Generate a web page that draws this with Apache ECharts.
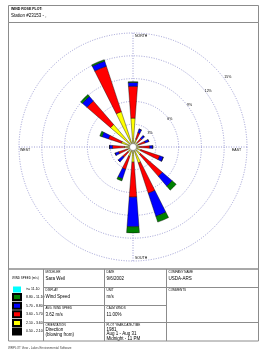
<!DOCTYPE html>
<html><head><meta charset="utf-8">
<script src="https://cdn.jsdelivr.net/npm/echarts@6/dist/echarts.min.js"></script>
<style>html,body{margin:0;padding:0;background:#fff}#c{width:266px;height:357px}</style>
</head><body><div id="c"></div>
<script>
// ---- data ----
const directions = ['N','NNE','NE','ENE','E','ESE','SE','SSE','S','SSW','SW','WSW','W','WNW','NW','NNW'];
const speedClasses = ['0.50 - 2.10','2.10 - 3.60','3.60 - 5.70','5.70 - 8.80','8.80 - 11.10','>= 11.10'];
const speedColors = ['#000000','#ffff00','#ff0000','#0000ff','#008000','#00ffff'];
// frequency (%) per direction, per wind speed class
const speed050_210 = [0.3,0.3,0.3,0.3,0.3,0.3,0.3,0.3,0.3,0.3,0.3,0.3,0.3,0.3,0.3,0.3];
const speed210_360 = [3.5,0.8,0.5,0.5,0.6,0.8,1.0,1.9,1.7,1.0,0.6,0.5,0.8,1.3,3.6,4.6];
const speed360_570 = [4.2,0.9,0.7,0.9,1.3,2.6,3.8,4.2,4.6,1.8,0.9,1.2,1.6,1.8,4.1,6.3];
const speed570_880 = [0.5,0.5,0.5,0.5,0.4,0.5,1.7,3.2,3.9,1.3,0.8,0.5,0.4,0.9,0.8,0.7];
const speed880_1110 = [0.1,0,0,0,0,0,0.7,0.8,0.8,0.3,0,0,0,0.3,0.3,0.2];
const speed1110_up = [0,0,0,0,0,0,0,0,0,0,0,0,0,0,0,0];
const ringTicks = [3,6,9,12,15];
const compassLabels = ['NORTH','EAST','SOUTH','WEST'];

const seriesValues = [speed050_210, speed210_360, speed360_570, speed570_880, speed880_1110, speed1110_up];

// ---- layout ----
const CX = 133, CY = 147, R = 114;
const FONT = 'Liberation Sans, Arial, sans-serif';
const gridColor = '#9c9cd4';
const boxColor = '#8c8c8c';

function txt(text, x, y, size, opts) {
  opts = opts || {};
  return {type:'text', silent:true, z:10, style:{text:text, x:x, y:y, fontSize:size, fontFamily:FONT,
    fontWeight: opts.bold ? 'bold' : 'normal', fill: opts.color || '#000',
    textAlign: opts.align || 'left', align: opts.align || 'left',
    textVerticalAlign:'middle', verticalAlign:'middle'}};
}
function line(x1,y1,x2,y2,color){
  return {type:'line', silent:true, z:9, shape:{x1:x1,y1:y1,x2:x2,y2:y2}, style:{stroke:color||boxColor, lineWidth:1}};
}
function rect(x,y,w,h){
  return {type:'rect', silent:true, z:9, shape:{x:x,y:y,width:w,height:h}, style:{fill:'none', stroke:boxColor, lineWidth:1}};
}

const graphics = [
  rect(8.5,5.5,250,17),
  rect(8.5,22.5,250,246.5),
  rect(8.5,269,250,72),
  line(43.5,269,43.5,341), line(104.5,269,104.5,341), line(166.5,269,166.5,341),
  line(43.5,287.5,166.5,287.5), line(43.5,305.5,166.5,305.5), line(43.5,322.5,166.5,322.5),
  line(166.5,287.5,258.5,287.5), line(166.5,322.5,258.5,322.5),
  txt('WIND ROSE PLOT:', 11, 9, 3.5, {bold:true}),
  txt('Station #23153 - ,', 11, 16, 4.5),
  // compass labels
  txt(compassLabels[0], CX+2, CY-R+3, 3.5),
  txt(compassLabels[1], CX+R-15, CY+3.5, 3.5),
  txt(compassLabels[2], CX+2, CY+R-2.5, 3.5),
  txt(compassLabels[3], CX-R+1, CY+3.5, 3.5),
  // calm circle
  {type:'circle', silent:true, z:8, shape:{cx:CX, cy:CY, r:3.5}, style:{fill:'#fff', stroke:'#777', lineWidth:0.6}},
  // legend title
  txt('WIND SPEED (m/s)', 12, 278, 3),
  // table cells
  txt('MODELER', 45.5, 272.5, 3), txt('Sara Weil', 45.5, 278.5, 4.5),
  txt('DATE', 106.5, 272.5, 3), txt('9/6/2002', 106.5, 278.5, 4.5),
  txt('COMPANY NAME', 168.5, 272.5, 3), txt('USDA-ARS', 168.5, 278.5, 4.5),
  txt('DISPLAY', 45.5, 290, 3), txt('Wind Speed', 45.5, 296.5, 4.5),
  txt('UNIT', 106.5, 290, 3), txt('m/s', 106.5, 296.5, 4.5),
  txt('COMMENTS', 168.5, 290, 3),
  txt('AVG. WIND SPEED', 45.5, 308, 3), txt('3.62 m/s', 45.5, 314.5, 4.5),
  txt('CALM WINDS', 106.5, 308, 3), txt('11.00%', 106.5, 314.5, 4.5),
  txt('ORIENTATION', 45.5, 325, 3), txt('Direction', 45.5, 330, 4.5), txt('(blowing from)', 45.5, 334.5, 4.5),
  txt('PLOT YEAR-DATE-TIME', 106.5, 325, 3), txt('1981', 106.5, 329.5, 4.5),
  txt('Aug 1 - Aug 31', 106.5, 334, 4.5), txt('Midnight - 11 PM', 106.5, 338.5, 4.5),
  txt('WRPLOT View - Lakes Environmental Software', 8, 348, 3, {color:'#444'})
];

const series = seriesValues.map((vals, i) => ({
  name: speedClasses[i],
  type: 'bar',
  coordinateSystem: 'polar',
  polarIndex: 0,
  stack: 'rose',
  barWidth: '38%',
  data: vals,
  itemStyle: {color: speedColors[i], borderColor: '#000', borderWidth: i === 5 ? 0 : 0.4},
  emphasis: {disabled: true},
  silent: true,
  animation: false
}));

const chart = echarts.init(document.getElementById('c'), null, {renderer:'canvas'});
chart.setOption({
  animation: false,
  backgroundColor: '#fff',
  polar: [
    {center:[CX, CY], radius: R},
    {center:[CX, CY], radius: R},
    {center:[CX, CY], radius: R * 1.06}
  ],
  angleAxis: [
    {polarIndex:0, type:'category', data: directions, startAngle: 90 + 360/directions.length/2, clockwise:true,
     boundaryGap:true, axisLine:{show:false}, axisTick:{show:false}, axisLabel:{show:false}, splitLine:{show:false}},
    {polarIndex:1, type:'value', min:0, max:360, interval:90, startAngle:90,
     axisLine:{show:false}, axisTick:{show:false}, axisLabel:{show:false},
     splitLine:{show:true, lineStyle:{color:gridColor, type:[1,1.5], width:1}}},
    {polarIndex:2, type:'value', min:0, max:360, startAngle:35.5,
     axisLine:{show:false}, axisTick:{show:false}, axisLabel:{show:false}, splitLine:{show:false}}
  ],
  radiusAxis: [
    {polarIndex:0, type:'value', min:0, max:ringTicks[ringTicks.length-1], interval: ringTicks[0],
     axisLine:{show:false}, axisTick:{show:false}, axisLabel:{show:false}, splitLine:{show:false}},
    {polarIndex:1, type:'value', min:0, max:ringTicks[ringTicks.length-1], interval: ringTicks[0],
     axisLine:{show:false}, axisTick:{show:false}, axisLabel:{show:false},
     splitLine:{show:true, lineStyle:{color:gridColor, type:[1,1.5], width:1}}},
    {polarIndex:2, type:'value', min:0, max:ringTicks[ringTicks.length-1], interval: ringTicks[0],
     axisLine:{show:false}, axisTick:{show:false}, splitLine:{show:false},
     axisLabel:{show:true, fontSize:3.5, fontFamily:FONT, color:'#000', margin:0,
       formatter: v => ringTicks.indexOf(v) >= 0 ? v + '%' : ''}}
  ],
  legend: {
    orient:'vertical', left:12, top:286.5, itemWidth:8, itemHeight:6, itemGap:0.6, icon:'rect',
    selectedMode:false, padding:0,
    data: speedClasses.slice().reverse(),
    textStyle:{fontSize:3.5, lineHeight:6, height:6, fontFamily:FONT, color:'#000', padding:0}
  },
  series: series,
  graphic: graphics
});
</script></body></html>
